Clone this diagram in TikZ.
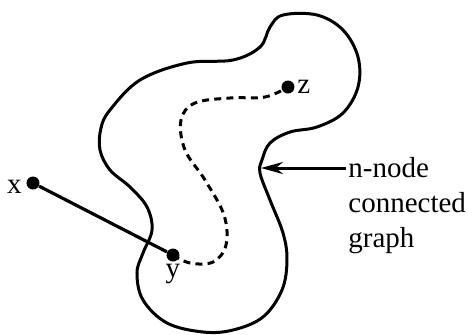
\documentclass[tikz,border=0pt]{standalone}
\usepackage{fontspec}
\setmainfont{Liberation Serif}
\usetikzlibrary{arrows.meta, positioning}

\tikzset{
    dot/.style = {circle, fill, inner sep=0pt, minimum size=6.5pt},
    blob/.style = {line width=1.5pt},
    walk/.style = {line width=1.5pt, dash pattern=on 3.5pt off 2.6pt},
    lbl/.style = {inner sep=1pt, font=\fontsize{14.5}{17.5}\selectfont}
}

\begin{document}
\begin{tikzpicture}[x=0.5pt, y=-0.5pt]
\useasboundingbox (0,0) rectangle (468,334);

% the graph
\draw[blob] plot[smooth cycle, tension=0.6] coordinates {
    (283,15) (317,15) (343,30) (358,57) (358,87) (343,113) (317,127)
    (290,132) (270,143) (262,160) (260,173) (270,200) (283,233) (287,260)
    (282,290) (263,317) (233,330) (203,332) (167,323) (143,300) (137,273)
    (143,253) (152,230) (147,207) (130,187) (110,170) (100,150) (101,128)
    (110,110) (140,80) (187,63) (233,60) (260,47) (270,27)};
\coordinate (dent) at (261,168);

\node (x) [dot] at (33,183) {};
\node (y) [dot] at (173,255) {};
\node (z) [dot] at (288,87) {};

\node (xl) [lbl, left=1pt of x, yshift=-2pt] {x};
\node (yl) [lbl, below=0pt of y] {y};
\node (zl) [lbl, right=0pt of z] {z};

\draw[line width=1.6pt] (x) -- (y);
\draw[walk] plot[smooth, tension=0.6] coordinates {
    (y.center) (190,263) (213,262) (226,245) (224,215) (205,180)
    (185,150) (181,120) (195,103) (230,98) (265,97) (z.center)};

\node (nnode) [lbl, anchor=west] at (346,168) {n-node};
\node (conn) [lbl, below=17.5pt of nnode.base west, anchor=base west] {connected};
\node (graph) [lbl, below=17.5pt of conn.base west, anchor=base west] {graph};

\draw[line width=1.5pt, -{Stealth[length=11pt, width=6pt]}] (nnode) -- (dent);
\end{tikzpicture}
\end{document}
